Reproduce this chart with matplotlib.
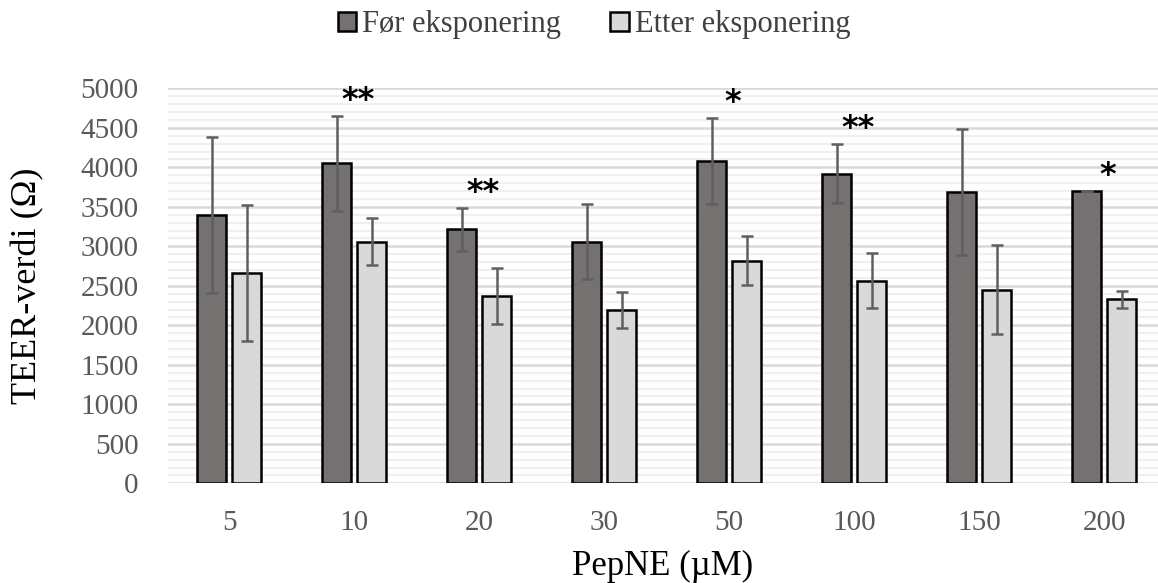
import numpy as np
import matplotlib
matplotlib.use("Agg")
import matplotlib.pyplot as plt
from matplotlib.ticker import MultipleLocator

# data
doses = ["5", "10", "20", "30", "50", "100", "150", "200"]
before = [3400, 4050, 3215, 3060, 4080, 3920, 3685, 3695]
before_err = [990, 605, 270, 470, 550, 375, 800, 0]
after = [2665, 3060, 2372, 2197, 2820, 2567, 2453, 2327]
after_err = [862, 293, 350, 230, 310, 350, 568, 105]
stars = ["", "**", "**", "", "*", "**", "", "*"]

plt.rcParams['font.family'] = ['Liberation Serif', 'DejaVu Serif']

fig = plt.figure(figsize=(11.58, 5.83), dpi=100)
ax = fig.add_axes([0.145, 0.171, 0.855, 0.6775])

x = np.arange(len(doses))
w = 0.232
off = 0.141
errkw = dict(ecolor="#5f5f5f", elinewidth=1.8, capsize=4, capthick=1.8)
ax.bar(x - off, before, w, yerr=before_err, color="#757171", edgecolor="black",
       linewidth=1.8, error_kw=errkw, label="Før eksponering", zorder=3)
ax.bar(x + off, after, w, yerr=after_err, color="#d9d9d9", edgecolor="black",
       linewidth=1.8, error_kw=errkw, label="Etter eksponering", zorder=3)

# significance marks above the "before" error bars
for i, s in enumerate(stars):
    if s:
        ax.annotate(s, (x[i] + 0.03, before[i] + before_err[i]), xytext=(0, 0),
                    textcoords="offset points", ha="center", va="bottom",
                    fontsize=23, fontweight="bold", family="DejaVu Sans")

ax.set_ylim(0, 5000)
ax.set_xlim(-0.49, 7.43)
ax.yaxis.set_major_locator(MultipleLocator(500))
ax.yaxis.set_minor_locator(MultipleLocator(100))
ax.grid(which="major", axis="y", color="#d9d9d9", linewidth=1.8, zorder=0)
ax.grid(which="minor", axis="y", color="#f0f0f0", linewidth=1.6, zorder=0)
ax.set_axisbelow(True)
for sp in ax.spines.values():
    sp.set_visible(False)
ax.tick_params(which="both", length=0)
ax.tick_params(axis="y", labelsize=21, labelcolor="#595959", pad=21)
ax.tick_params(axis="x", labelsize=21, labelcolor="#595959", pad=19)
ax.set_xticks(x)
ax.set_xticklabels(doses)

ax.set_ylabel("TEER-verdi (Ω)", fontsize=26, labelpad=26)
ax.set_xlabel("PepNE (µM)", fontsize=25, labelpad=10)

leg = fig.legend(loc="upper center", bbox_to_anchor=(0.513, 1.03), ncol=2,
                 frameon=False, fontsize=22, handlelength=0.6, handleheight=0.6,
                 handletextpad=0.2, columnspacing=1.6)
for t in leg.get_texts():
    t.set_color("#404040")

fig.savefig("out.png", dpi=100)
